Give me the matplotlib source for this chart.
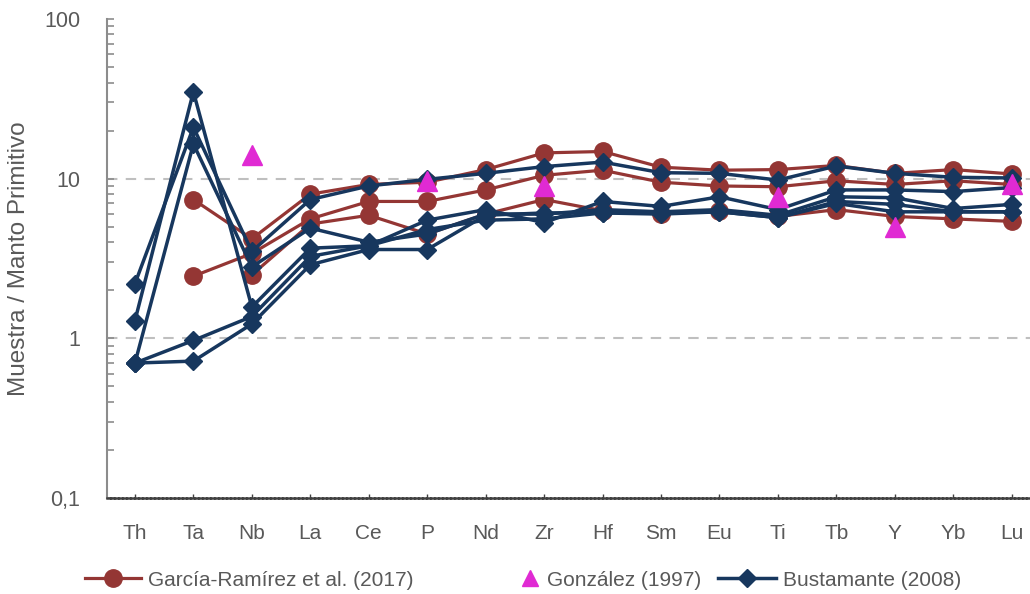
import numpy as np
import matplotlib
matplotlib.use("Agg")
import matplotlib.pyplot as plt
from matplotlib.ticker import FixedLocator, FixedFormatter, LogLocator, NullFormatter
from matplotlib.lines import Line2D

nan = np.nan

elements = ['Th', 'Ta', 'Nb', 'La', 'Ce', 'P', 'Nd', 'Zr', 'Hf',
            'Sm', 'Eu', 'Ti', 'Tb', 'Y', 'Yb', 'Lu']

# García-Ramírez et al. (2017)
garcia_1 = [nan, 7.4, 4.2, 8.0, 9.2, 9.5, 11.4, 14.5, 14.8, 11.8, 11.3, 11.4, 12.1, 10.8, 11.4, 10.7]
garcia_2 = [nan, 2.45, 3.4, 5.6, 7.2, 7.2, 8.5, 10.5, 11.3, 9.5, 9.0, 8.9, 9.7, 9.2, 9.7, 9.2]
garcia_3 = [nan, nan, 2.5, 5.2, 5.9, 4.5, 6.0, 7.4, 6.3, 6.0, 6.3, 5.8, 6.4, 5.8, 5.6, 5.4]

# González (1997)
gonzalez = [nan, nan, 14.0, nan, nan, 9.6, nan, 9.0, nan, nan, nan, 7.7, nan, 5.0, nan, 9.2]

# Bustamante (2008)
bust_1 = [2.2, 21.0, 3.5, 7.4, 9.0, 9.9, 10.8, 11.9, 12.7, 10.9, 10.8, 9.8, 12.0, 10.8, 10.2, 10.1]
bust_2 = [1.29, 35.0, 1.57, 3.67, 3.8, 5.5, 6.4, 5.3, 7.2, 6.7, 7.7, 6.4, 8.5, 8.5, 8.3, 8.8]
bust_3 = [0.7, 16.5, 2.8, 4.9, 4.0, 4.5, 6.0, 6.0, 6.4, 6.2, 6.4, 5.9, 7.7, 7.6, 6.5, 6.9]
bust_4 = [0.7, 0.97, 1.37, 3.26, 3.8, 4.8, 5.5, 5.6, 6.1, 6.2, 6.2, 5.7, 7.2, 6.9, 6.2, 6.2]
bust_5 = [0.7, 0.72, 1.23, 2.89, 3.6, 3.6, 5.9, 6.1, 6.1, 6.0, 6.2, 5.7, 7.0, 6.2, 6.2, 6.2]

y_ticks = [0.1, 1, 10, 100]
y_tick_labels = ['0,1', '1', '10', '100']

RED = '#943634'
NAVY = '#17375E'
MAGENTA = '#E02AD3'
GREY_TXT = '#595959'

narrow = ['Liberation Sans Narrow', 'Liberation Sans', 'DejaVu Sans']
plt.rcParams['font.family'] = ['Liberation Sans', 'DejaVu Sans']

fig = plt.figure(figsize=(10.30, 5.94), dpi=100)
ax = fig.add_axes([106.6 / 1030, 1 - 498 / 594, (1041 - 106.6) / 1030, (498 - 19) / 594])

x = np.arange(len(elements))

for ys in (garcia_1, garcia_2, garcia_3):
    ax.plot(x, ys, color=RED, lw=2.3, marker='o', ms=12.5, mfc=RED, mec=RED, zorder=3)

for ys in (bust_1, bust_2, bust_3, bust_4, bust_5):
    ax.plot(x, ys, color=NAVY, lw=2.5, marker='D', ms=9, mfc=NAVY, mec=NAVY, zorder=4)

ax.plot(x, gonzalez, ls='none', marker='^', ms=14, mfc=MAGENTA, mec=MAGENTA, zorder=5)

ax.set_yscale('log')
ax.set_ylim(0.1, 100)
ax.set_xlim(-0.485, len(elements) - 0.5)

ax.yaxis.set_major_locator(FixedLocator(y_ticks))
ax.yaxis.set_major_formatter(FixedFormatter(y_tick_labels))
ax.yaxis.set_minor_locator(LogLocator(base=10, subs=np.arange(2, 10)))
ax.yaxis.set_minor_formatter(NullFormatter())
ax.tick_params(axis='y', which='both', direction='in', length=5, width=1.2,
               color='#8c8c8c', labelsize=15.5, labelcolor=GREY_TXT, pad=19)

ax.set_xticks(x)
ax.set_xticklabels(elements, fontfamily=narrow)
ax.tick_params(axis='x', which='major', direction='in', length=3, width=1,
               color='#404040', labelsize=15, labelcolor=GREY_TXT, pad=19)

for gy in (1, 10):
    ax.axhline(gy, color='#bfbfbf', lw=1.5, ls=(0, (5, 4)), zorder=1)

for side in ('top', 'right'):
    ax.spines[side].set_visible(False)
ax.spines['left'].set_color('#8c8c8c')
ax.spines['left'].set_linewidth(1.5)
ax.spines['bottom'].set_color('#404040')
ax.spines['bottom'].set_linewidth(1.8)
ax.spines['bottom'].set_linestyle((0, (1, 0.6)))

ax.set_ylabel('Muestra / Manto Primitivo', fontsize=17.5, color=GREY_TXT, labelpad=10)

# Legend entries, laid out along one row below the axes
leg_y = 1 - 580 / 594
entries = [
    (Line2D([], [], color=RED, lw=2.3, marker='o', ms=12.5), 'García-Ramírez et al. (2017)', 85, 2.7),
    (Line2D([], [], ls='none', marker='^', ms=11, color=MAGENTA), 'González (1997)', 520, 1.0),
    (Line2D([], [], color=NAVY, lw=2.5, marker='D', ms=9), 'Bustamante (2008)', 718, 2.8),
]
for handle, label, left_px, hlen in entries:
    fig.legend([handle], [label], loc='center left', bbox_to_anchor=(left_px / 1030, leg_y),
               frameon=False, borderpad=0, borderaxespad=0, handlelength=hlen,
               handletextpad=0.3, prop={'family': narrow, 'size': 15},
               labelcolor=GREY_TXT)

fig.savefig('out.png', dpi=100)
